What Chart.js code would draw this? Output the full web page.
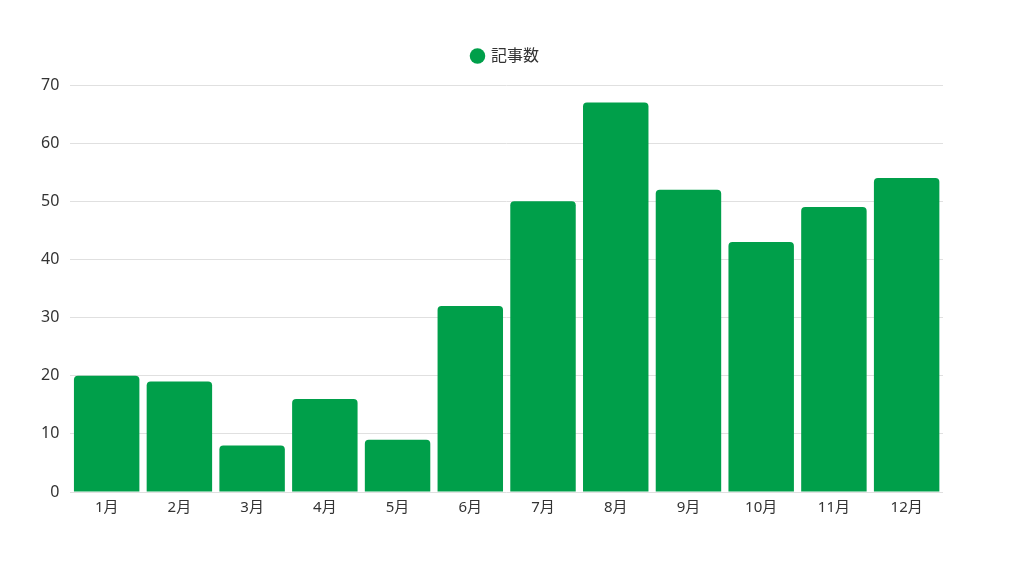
<!DOCTYPE html>
<html lang="ja">
<head>
<meta charset="utf-8">
<script src="https://cdn.jsdelivr.net/npm/chart.js@4/dist/chart.umd.min.js"></script>
<style>
  html, body { margin: 0; padding: 0; background: #fff; }
  .wrap { width: 1024px; height: 576px; }
</style>
</head>
<body>
<div class="wrap"><canvas id="chartArticles"></canvas></div>
<script>
// 月別の記事数
const months   = ['1月','2月','3月','4月','5月','6月','7月','8月','9月','10月','11月','12月'];
const articles = [20, 19, 8, 16, 9, 32, 50, 67, 52, 43, 49, 54];
const yTicks   = [0, 10, 20, 30, 40, 50, 60, 70];

const FONT = "'Noto Sans', 'Noto Sans CJK JP', sans-serif";
Chart.defaults.font.family = FONT;
Chart.defaults.color = '#333';

// 凡例の下に余白を足し、少し右へ寄せる
const legendGap = {
  id: 'legendGap',
  beforeInit(chart) {
    const fit = chart.legend.fit;
    chart.legend.fit = function () {
      fit.bind(chart.legend)();
      this.height += 11;
    };
  },
  afterLayout(chart) {
    chart.legend.left += 19;
    chart.legend.right += 19;
  }
};

const ctx = document.getElementById('chartArticles');
new Chart(ctx, {
  type: 'bar',
  data: {
    labels: months,
    datasets: [{
      label: '記事数',
      data: articles,
      backgroundColor: '#009f4a',
      borderRadius: 4,
      borderSkipped: 'bottom',
      barPercentage: 0.9,
      categoryPercentage: 1.0
    }]
  },
  options: {
    responsive: true, maintainAspectRatio: false,
    animation: false,
    layout: { padding: { top: 27, right: 81, bottom: 52, left: 30 } },
    plugins: {
      legend: {
        labels: { usePointStyle: true, pointStyle: 'circle', boxWidth: 11, boxHeight: 11, padding: 21, font: { size: 16 }, color: '#333' }
      },
      tooltip: { enabled: false }
    },
    scales: {
      x: {
        grid: { display: false, drawTicks: false },
        border: { display: false },
        ticks: { font: { size: 15 }, color: '#333', padding: 7 }
      },
      y: {
        min: 0, max: 70,
        afterBuildTicks: axis => { axis.ticks = yTicks.map(v => ({ value: v })); },
        grid: { color: '#e0e0e0', drawTicks: false },
        border: { display: false },
        ticks: { font: { size: 16 }, color: '#333', padding: 11 }
      }
    }
  },
  plugins: [legendGap]
});
</script>
</body>
</html>
